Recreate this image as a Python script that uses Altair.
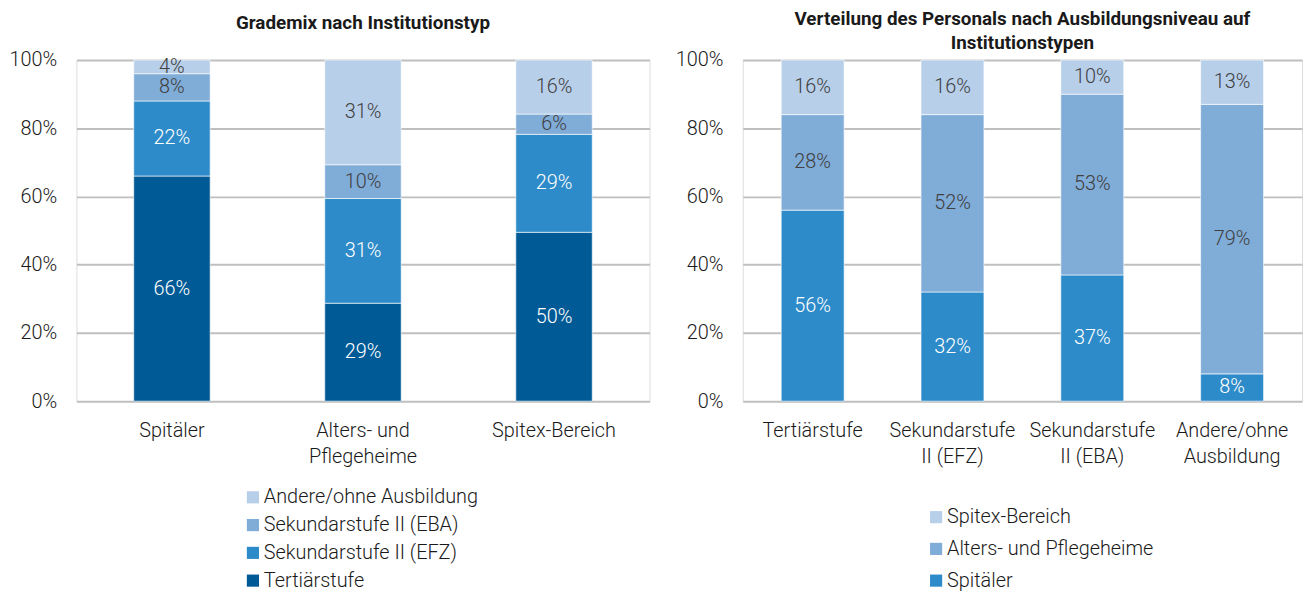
import altair as alt
import pandas as pd

# ---- Left panel data: Grademix nach Institutionstyp ----
left_categories = ["Spitäler", "Alters- und Pflegeheime", "Spitex-Bereich"]
left_tick_lines = [["Spitäler"], ["Alters- und", "Pflegeheime"], ["Spitex-Bereich"]]
levels = ["Tertiärstufe", "Sekundarstufe II (EFZ)", "Sekundarstufe II (EBA)", "Andere/ohne Ausbildung"]
tertiaer = [66, 29, 50]
efz = [22, 31, 29]
eba = [8, 10, 6]
andere = [4, 31, 16]

# ---- Right panel data: Verteilung des Personals ----
right_categories = ["Tertiärstufe", "Sekundarstufe II (EFZ)", "Sekundarstufe II (EBA)", "Andere/ohne Ausbildung"]
right_tick_lines = [["Tertiärstufe"], ["Sekundarstufe", "II (EFZ)"], ["Sekundarstufe", "II (EBA)"], ["Andere/ohne", "Ausbildung"]]
institutions = ["Spitäler", "Alters- und Pflegeheime", "Spitex-Bereich"]
spitaeler = [56, 32, 37, 8]
alters = [28, 52, 53, 79]
spitex = [16, 16, 10, 13]

# colours
level_colors = ["#005a96", "#2e8bc9", "#80acd8", "#b8cfea"]
inst_colors = ["#2e8bc9", "#80acd8", "#b8cfea"]
level_text = ["white", "white", "#404040", "#404040"]
inst_text = ["white", "#404040", "#404040"]

FONT = "Roboto"
FS = 20

rows = []
for series_i, (lvl, vals) in enumerate(zip(levels, [tertiaer, efz, eba, andere])):
    for cat, v in zip(left_categories, vals):
        rows.append({"cat": cat, "series": lvl, "ord": series_i, "val": v,
                     "tc": level_text[series_i]})
df_left = pd.DataFrame(rows)

rows = []
for series_i, (inst, vals) in enumerate(zip(institutions, [spitaeler, alters, spitex])):
    for cat, v in zip(right_categories, vals):
        rows.append({"cat": cat, "series": inst, "ord": series_i, "val": v,
                     "tc": inst_text[series_i]})
df_right = pd.DataFrame(rows)


def label_expr(cats, lines):
    expr = "datum.label"
    for c, l in zip(cats, lines):
        arr = "[" + ",".join("'" + s + "'" for s in l) + "]"
        expr = f"datum.label == '{c}' ? {arr} : ({expr})"
    return expr


def panel(df, cats, lines, series_order, colors, title, title_offset, width,
          pad_inner, pad_outer, legend_x, legend_y, row_pad):
    base = alt.Chart(df).transform_stack(
        stack="val", groupby=["cat"], as_=["y0", "y1"],
        sort=[alt.SortField("ord", order="ascending")], offset="normalize"
    ).transform_calculate(mid="(datum.y0 + datum.y1) / 2")

    x = alt.X("cat:N", sort=cats, title=None,
              scale=alt.Scale(paddingInner=pad_inner, paddingOuter=pad_outer),
              axis=alt.Axis(labelAngle=0, labelExpr=label_expr(cats, lines),
                            labelFontSize=FS, labelFont=FONT, labelFontWeight=300,
                            labelColor="#1a1a1a", labelLineHeight=26,
                            labelPadding=20, ticks=False, domain=False, grid=False))
    bars = base.mark_bar(stroke="white", strokeWidth=0.6).encode(
        x=x,
        y=alt.Y("y0:Q", title=None,
                scale=alt.Scale(domain=[0, 1], nice=False),
                axis=alt.Axis(format=".0%", values=[0, 0.2, 0.4, 0.6, 0.8, 1.0],
                              labelFontSize=FS, labelFont=FONT, labelFontWeight=300,
                              labelColor="#1a1a1a", labelPadding=20, ticks=False,
                              domain=False, gridColor="#bfbfbf", gridWidth=2)),
        y2="y1:Q",
        color=alt.Color("series:N",
                        scale=alt.Scale(domain=list(reversed(series_order)),
                                        range=list(reversed(colors))),
                        legend=alt.Legend(title=None, orient="none",
                                          legendX=legend_x, legendY=legend_y,
                                          direction="vertical", symbolType="square",
                                          symbolSize=150, symbolStrokeWidth=0,
                                          labelFontSize=FS, labelFont=FONT,
                                          labelFontWeight=300, labelColor="#1a1a1a",
                                          labelLimit=0,
                                          rowPadding=row_pad, labelOffset=1)),
    )
    text = base.mark_text(fontSize=FS, font=FONT, fontWeight=300).encode(
        x=alt.X("cat:N", sort=cats),
        y=alt.Y("mid:Q"),
        text=alt.Text("label:N"),
        color=alt.Color("tc:N", scale=None, legend=None),
    ).transform_calculate(label="datum.val + '%'")

    return alt.layer(bars, text).properties(
        width=width, height=344,
        title=alt.TitleParams(title, fontSize=19, font=FONT, fontWeight="bold",
                              color="#1a1a1a", anchor="middle", offset=title_offset,
                              lineHeight=24),
    )


left = panel(df_left, left_categories, left_tick_lines, levels, level_colors,
             "Grademix nach Institutionstyp", 17, 578, 0.6, 0.3, 168, 431, 8)
right = panel(df_right, right_categories, right_tick_lines, institutions, inst_colors,
              ["Verteilung des Personals nach Ausbildungsniveau auf", "Institutionstypen"],
              -3, 564, 0.55, 0.275, 185, 451, 12)

chart = alt.hconcat(left, right, spacing=24).resolve_scale(
    color="independent", x="independent", y="independent"
).properties(
    padding={"left": 0, "top": -1, "right": 0, "bottom": 0}
).configure_view(
    fill="#e8e8e8", stroke="#b3b3b3", strokeWidth=2
).configure(background="white")

chart.save("out.html", embed_options={"renderer": "svg", "actions": False})
